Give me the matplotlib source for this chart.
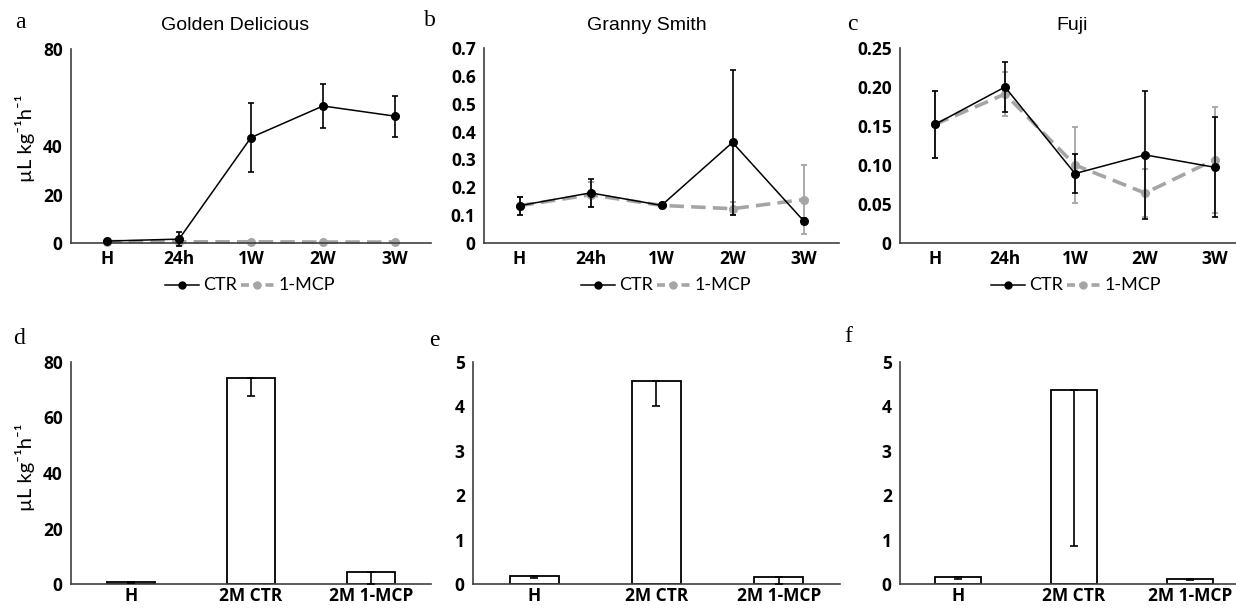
import matplotlib

matplotlib.use("Agg")
import matplotlib.pyplot as plt
from matplotlib.lines import Line2D

# ---- data ----
time_labels = ["H", "24h", "1W", "2W", "3W"]
bar_labels = ["H", "2M CTR", "2M 1-MCP"]

gd_ctr = [0.8, 1.6, 43.5, 56.5, 52.3]
gd_ctr_err = [0.3, 2.8, 14.2, 9.0, 8.4]
gd_mcp = [0.6, 0.5, 0.5, 0.4, 0.4]
gd_mcp_err = [0.2, 0.2, 0.2, 0.2, 0.2]

gs_ctr = [0.134, 0.180, 0.135, 0.361, 0.080]
gs_ctr_err = [0.032, 0.051, 0.010, 0.261, 0.010]
gs_mcp = [0.134, 0.173, 0.135, 0.123, 0.156]
gs_mcp_err = [0.032, 0.045, 0.008, 0.023, 0.125]

fu_ctr = [0.152, 0.200, 0.089, 0.113, 0.097]
fu_ctr_err = [0.043, 0.032, 0.025, 0.082, 0.064]
fu_mcp = [0.152, 0.191, 0.100, 0.064, 0.107]
fu_mcp_err = [0.043, 0.028, 0.049, 0.031, 0.068]

gd_bar = [0.7, 74.1, 4.3]
gd_bar_err = [0.3, 6.4, 4.3]
gs_bar = [0.187, 4.57, 0.15]
gs_bar_err = [0.05, 0.56, 0.15]
fu_bar = [0.157, 4.38, 0.12]
fu_bar_err = [0.045, 3.53, 0.02]

GRAY = "#A5A5A5"
AXC = "#404040"
TICK_FONT = ["Open Sans", "DejaVu Sans"]
LAB_FONT = ["Lato", "DejaVu Sans"]

fig = plt.figure(figsize=(12.36, 6.09), dpi=100)
W, H = 1236.0, 609.0


def add_axes(left, top, right, bottom):
    return fig.add_axes([left / W, 1 - bottom / H, (right - left) / W, (bottom - top) / H])


def style(ax, yticks, ylabels, xpad):
    for s in ("top", "right"):
        ax.spines[s].set_visible(False)
    for s in ("left", "bottom"):
        ax.spines[s].set_color(AXC)
        ax.spines[s].set_linewidth(1.2)
    ax.set_yticks(yticks)
    ax.set_yticklabels(ylabels)
    ax.tick_params(length=0)
    ax.tick_params(axis="y", pad=6)
    ax.tick_params(axis="x", pad=xpad)
    for lab in ax.get_xticklabels() + ax.get_yticklabels():
        lab.set_fontfamily(TICK_FONT)
        lab.set_fontweight("bold")
        lab.set_fontsize(12.5)


def line_panel(ax, ctr, ctr_err, mcp, mcp_err, ylim, yticks, ylabels):
    x = list(range(len(time_labels)))
    ax.errorbar(x, mcp, yerr=mcp_err, color=GRAY, ls=(0, (4, 2)), lw=2.6,
                marker="o", ms=5.5, capsize=2.5, elinewidth=1.3, capthick=1.3,
                zorder=2, clip_on=False)
    ax.errorbar(x, ctr, yerr=ctr_err, color="black", lw=1.1, marker="o",
                ms=5.5, capsize=2.5, elinewidth=1.2, capthick=1.2,
                zorder=3, clip_on=False)
    ax.set_xlim(-0.5, 4.5)
    ax.set_ylim(*ylim)
    ax.set_xticks(x)
    ax.set_xticklabels(time_labels)
    style(ax, yticks, ylabels, 5)


def bar_panel(ax, vals, errs, ylim, yticks):
    x = list(range(len(bar_labels)))
    ax.bar(x, vals, width=0.4, color="white", edgecolor="black", lw=1.3, zorder=2)
    ax.errorbar(x, vals, yerr=[errs, [0] * len(errs)], fmt="none",
                ecolor="black", elinewidth=1.2, capsize=3, capthick=1.2, zorder=3)
    ax.set_xlim(-0.5, 2.5)
    ax.set_ylim(*ylim)
    ax.set_xticks(x)
    ax.set_xticklabels(bar_labels)
    style(ax, yticks, [str(t) for t in yticks], 2)


ax_a = add_axes(71, 49, 431, 243)
ax_b = add_axes(484, 48, 839, 243)
ax_c = add_axes(900, 48, 1250, 243)
ax_d = add_axes(71, 362, 431, 584)
ax_e = add_axes(473, 362, 840, 584)
ax_f = add_axes(900, 362, 1248, 584)

panels = [
    (ax_a, gd_ctr, gd_ctr_err, gd_mcp, gd_mcp_err, (0, 80), [0, 20, 40, 80],
     ["0", "20", "40", "80"], 250),
    (ax_b, gs_ctr, gs_ctr_err, gs_mcp, gs_mcp_err, (0, 0.7),
     [0, 0.1, 0.2, 0.3, 0.4, 0.5, 0.6, 0.7],
     ["0", "0.1", "0.2", "0.3", "0.4", "0.5", "0.6", "0.7"], 666),
    (ax_c, fu_ctr, fu_ctr_err, fu_mcp, fu_mcp_err, (0, 0.25),
     [0, 0.05, 0.10, 0.15, 0.20, 0.25],
     ["0", "0.05", "0.10", "0.15", "0.20", "0.25"], 1076),
]
handles = [
    Line2D([], [], color="black", lw=1.1, marker="o", ms=5),
    Line2D([], [], color=GRAY, lw=2.6, ls=(0, (2.2, 1.2)), marker="o", ms=5),
]
for ax, c, ce, m, me, yl, yt, ytl, lx in panels:
    line_panel(ax, c, ce, m, me, yl, yt, ytl)
    leg = ax.legend(handles, ["CTR", "1-MCP"], loc="center",
                    bbox_to_anchor=(lx / W, 1 - 285 / H),
                    bbox_transform=fig.transFigure, ncol=2, frameon=False,
                    handlelength=2.4, columnspacing=0.3, handletextpad=0.3,
                    borderaxespad=0)
    for t in leg.get_texts():
        t.set_fontfamily(LAB_FONT)
        t.set_fontsize(13)

bar_panel(ax_d, gd_bar, gd_bar_err, (0, 80), [0, 20, 40, 60, 80])
bar_panel(ax_e, gs_bar, gs_bar_err, (0, 5), [0, 1, 2, 3, 4, 5])
bar_panel(ax_f, fu_bar, fu_bar_err, (0, 5), [0, 1, 2, 3, 4, 5])

# titles
for txt, x in [("Golden Delicious", 235), ("Granny Smith", 647), ("Fuji", 1072)]:
    fig.text(x / W, 1 - 25 / H, txt, ha="center", va="center",
             fontfamily="Liberation Sans", fontsize=14)

# panel letters
for txt, x, y in [("a", 20, 22), ("b", 430, 20), ("c", 852, 24),
                  ("d", 19, 338), ("e", 434, 340), ("f", 848, 337)]:
    fig.text(x / W, 1 - y / H, txt, ha="center", va="center",
             fontfamily="Liberation Serif", fontsize=17)

# y labels
for y in (138, 467):
    fig.text(25 / W, 1 - y / H, "µL kg⁻¹h⁻¹", rotation=90, ha="center",
             va="center", fontfamily=LAB_FONT, fontsize=14.5)

fig.savefig("out.png", dpi=100)
